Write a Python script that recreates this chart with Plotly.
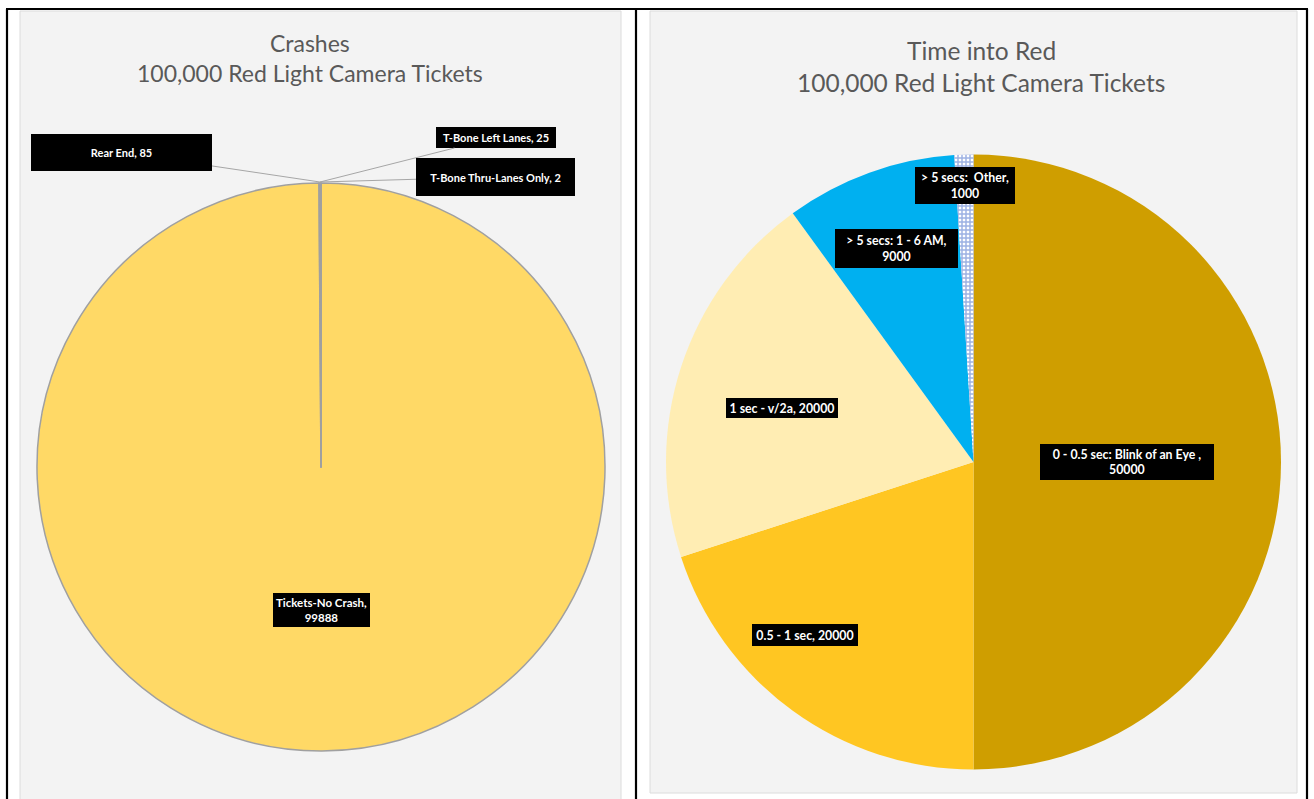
import plotly.graph_objects as go

W, H = 1314, 799

# ---------------- data ----------------
crash_labels = ["Tickets-No Crash", "Rear End", "T-Bone Left Lanes", "T-Bone Thru-Lanes Only"]
crash_values = [99888, 85, 25, 2]

time_labels = ["0 - 0.5 sec: Blink of an Eye ", "0.5 - 1 sec", "1 sec - v/2a",
               "> 5 secs: 1 - 6 AM", "> 5 secs:  Other"]
time_values = [50000, 20000, 20000, 9000, 1000]

left_title = ["Crashes", "100,000 Red Light Camera Tickets"]
right_title = ["Time into Red", "100,000 Red Light Camera Tickets"]

# ---------------- style ----------------
crash_colors = ["#FFD966", "#FFD966", "#FFD966", "#FFD966"]
time_colors = ["#CF9E00", "#FFC622", "#FFEDB3", "#00B0F0", "#FFFFFF"]
FONT = "Lato"


def px(x):
    return x / W


def py(y):
    return 1 - y / H


fig = go.Figure()

fig.add_trace(go.Pie(
    labels=crash_labels, values=crash_values, sort=False, direction="clockwise",
    rotation=0, textinfo="none", hoverinfo="label+value",
    marker=dict(colors=crash_colors, line=dict(color="#A0A0A0", width=1.5)),
    domain=dict(x=[px(37), px(605)], y=[py(751), py(183)]),
    showlegend=False,
))

fig.add_trace(go.Pie(
    labels=time_labels, values=time_values, sort=False, direction="clockwise",
    rotation=0, textinfo="none", hoverinfo="label+value",
    marker=dict(colors=time_colors, line=dict(color="rgba(0,0,0,0)", width=0),
                pattern=dict(shape=["", "", "", "", "+"], fgcolor="#3A64C6",
                             bgcolor="#FFFFFF", size=4, solidity=0.6,
                             fillmode="overlay")),
    domain=dict(x=[px(666), px(1281)], y=[py(769.5), py(154.5)]),
    showlegend=False,
))

shapes = []
# chart panels
shapes.append(dict(type="rect", xref="paper", yref="paper", x0=px(20), x1=px(621),
                   y0=py(H + 5), y1=py(11), fillcolor="#F3F3F3",
                   line=dict(color="#DCDCDC", width=1), layer="below"))
shapes.append(dict(type="rect", xref="paper", yref="paper", x0=px(650), x1=px(1297),
                   y0=py(793), y1=py(11), fillcolor="#F3F3F3",
                   line=dict(color="#DCDCDC", width=1), layer="below"))
# table borders
for (x0, y0, x1, y1) in [(6, 9, 1308, 9), (7, 9, 7, H + 5), (636, 9, 636, H + 5), (1307, 9, 1307, H + 5)]:
    shapes.append(dict(type="line", xref="paper", yref="paper", x0=px(x0), x1=px(x1),
                       y0=py(y0), y1=py(y1), line=dict(color="black", width=2.2), layer="above"))

annotations = []
# titles (one annotation per line)
for txt, cx, cy, sz in [(left_title[0], 310, 43, 23), (left_title[1], 310, 73, 23),
                        (right_title[0], 981, 50, 24.5), (right_title[1], 981, 83, 24.5)]:
    annotations.append(dict(xref="paper", yref="paper", x=px(cx), y=py(cy), showarrow=False,
                            text=txt, xanchor="center", yanchor="middle",
                            font=dict(family=FONT, size=sz, color="#595959")))


def label_box(text, cx, cy, w, h, size, head=None):
    a = dict(xref="paper", yref="paper", text="<b>" + text + "</b>",
             font=dict(family=FONT, size=size, color="white"),
             bgcolor="black", borderpad=0, borderwidth=0, width=w, height=h,
             align="center", valign="middle")
    if head is None:
        a.update(x=px(cx), y=py(cy), showarrow=False, xanchor="center", yanchor="middle")
    else:
        hx, hy = head
        a.update(x=px(hx), y=py(hy), showarrow=True, arrowhead=0, arrowwidth=1,
                 arrowcolor="#A6A6A6", ax=cx - hx, ay=cy - hy, standoff=0)
    annotations.append(a)


# left chart labels
head = (320, 182)
label_box(f"{crash_labels[0]},<br>{crash_values[0]}", 321, 610, 97, 34, 11.5)
label_box(f"{crash_labels[1]}, {crash_values[1]}", 121.5, 152.5, 181, 37, 11, head)
label_box(f"{crash_labels[2]}, {crash_values[2]}", 496, 137.5, 120, 21, 11, head)
label_box(f"{crash_labels[3]}, {crash_values[3]}", 495.5, 177, 159, 38, 11, head)

# right chart labels
RS = 12.3
label_box(f"{time_labels[0]},<br>{time_values[0]}", 1127, 462, 174, 36, RS)
label_box(f"{time_labels[1]}, {time_values[1]}", 805, 635, 106, 22, RS)
label_box(f"{time_labels[2]}, {time_values[2]}", 782, 408, 112, 20, RS)
label_box(f"{time_labels[3]},<br>{time_values[3]}", 896.5, 248.5, 123, 39, RS)
label_box(f"{time_labels[4]},<br>{time_values[4]}", 965, 185.5, 100, 37, RS)

fig.update_layout(
    width=W, height=H, margin=dict(l=0, r=0, t=0, b=0),
    paper_bgcolor="white", plot_bgcolor="white",
    shapes=shapes, annotations=annotations,
    font=dict(family=FONT),
)

fig.write_html("out.html", config={"displayModeBar": False})
